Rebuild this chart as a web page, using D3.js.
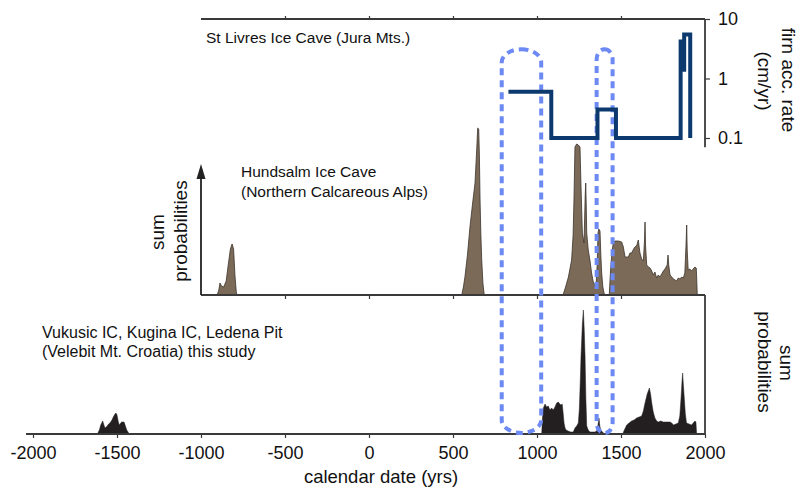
<!DOCTYPE html>
<html>
<head>
<meta charset="utf-8">
<script src="https://cdn.jsdelivr.net/npm/d3@7"></script>
<style>
  body { margin: 0; background: #fff; }
  svg { display: block; font-family: "Liberation Sans", Arial, sans-serif; }
  .axis line, .axis path { stroke: #3a3a3a; }
</style>
</head>
<body>
<div id="chart"></div>
<script>
// ---- data ----
const xTicks = [-2000, -1500, -1000, -500, 0, 500, 1000, 1500, 2000];
const rateTicks = [0.1, 1, 10];

// St Livres firn accumulation rate, step changes [year, cm/yr]
const stLivresYears = [830, 1085, 1360, 1470, 1855, 1868, 1876, 1912];
const stLivresRates = [0.6, 0.1, 0.3, 0.1, 4.2, 1.4, 5.5, 0.1];

// Hundsalm Ice Cave summed probabilities (relative units)
const hundsalmYears = [
  -905, -895, -887, -878, -865, -850, -838, -825, -815, -806, -798, -790, -786,
  552, 562, 571, 586, 601, 617, 631, 641, 647, 653, 657, 661, 666, 671, 678, 686,
  1155, 1170, 1187, 1206, 1215, 1220, 1226, 1236, 1246, 1256, 1262, 1270, 1280, 1287, 1290, 1293, 1296,
  1305, 1315, 1325, 1335, 1351, 1358, 1363, 1368, 1375, 1380, 1385, 1392, 1399, 1405,
  1430, 1438, 1446, 1454, 1464, 1484, 1504, 1514, 1524, 1544, 1553, 1563, 1575, 1583, 1595, 1603,
  1608, 1613, 1623, 1633, 1640, 1643, 1646, 1653, 1663, 1673, 1683, 1692, 1702, 1712, 1722, 1732,
  1742, 1752, 1762, 1775, 1780, 1784, 1792, 1802, 1812, 1822, 1831, 1841, 1851, 1861, 1871, 1880,
  1887, 1891, 1894, 1900, 1910, 1920, 1930, 1940, 1948, 1952, 1954
];
const hundsalmProb = [
  0, 4, 12, 9, 8, 14, 30, 46, 51, 46, 20, 3, 0,
  0, 8, 18, 40, 68, 92, 112, 145, 167, 166, 140, 95, 60, 35, 12, 0,
  0, 8, 18, 35, 60, 95, 148, 151, 150, 148, 108, 62, 52, 100, 112, 90, 62,
  45, 35, 22, 13, 8, 30, 62, 66, 64, 40, 22, 8, 2, 0,
  0, 25, 43, 52, 54, 54, 53, 48, 38, 38, 42, 42, 46, 48, 50, 55,
  48, 42, 36, 34, 55, 73, 50, 30, 28, 27, 24, 20, 23, 17, 20, 18,
  21, 24, 26, 30, 40, 30, 20, 18, 16, 15, 14, 17, 16, 18, 17, 22,
  50, 70, 45, 25, 26, 24, 26, 28, 27, 10, 0
];

// Vukusic IC, Kugina IC, Ledena Pit summed probabilities (relative units)
const velebitYears = [
  -1617, -1605, -1597, -1585, -1578, -1571, -1558, -1550, -1542, -1530, -1522, -1512, -1506,
  -1500, -1492, -1486, -1478, -1472, -1458, -1450, -1442, -1427,
  1028, 1032, 1038, 1048, 1057, 1067, 1077, 1087, 1097, 1107, 1117, 1127, 1135, 1143, 1150, 1155,
  1161, 1167, 1173, 1185, 1200, 1216, 1226, 1236, 1246, 1252, 1258, 1262, 1270, 1276, 1281, 1286,
  1291, 1296, 1305, 1315, 1345, 1355, 1362, 1369, 1374, 1379, 1395, 1405,
  1510, 1520, 1534, 1548, 1563, 1578, 1593, 1608, 1623, 1633, 1643, 1656, 1669, 1676, 1683, 1692,
  1702, 1712, 1722, 1737, 1752, 1772, 1792, 1802, 1812, 1827, 1841, 1850, 1857, 1863, 1867, 1871,
  1877, 1883, 1890, 1905, 1920, 1930, 1940, 1946, 1950
];
const velebitProb = [
  0, 4, 9, 13, 9, 6, 8, 10, 11, 14, 17, 20, 21,
  19, 12, 9, 11, 12, 12, 8, 4, 0,
  0, 15, 26, 30, 27, 28, 24, 26, 24, 27, 31, 32, 30, 29, 30, 22,
  11, 6, 4, 3, 2, 2, 6, 8, 11, 25, 55, 78, 110, 124, 105, 78,
  35, 8, 4, 2, 2, 3, 8, 16, 8, 4, 1, 0,
  0, 4, 9, 11, 13, 14, 16, 17, 18, 23, 31, 40, 46, 40, 31, 22,
  16, 13, 12, 13, 12, 12, 12, 11, 9, 10, 11, 18, 35, 52, 61, 50,
  35, 20, 11, 10, 9, 11, 13, 12, 0
];

// highlighted intervals (years)
const highlightStart = [790, 1355];
const highlightEnd = [1025, 1450];

// ---- layout ----
const W = 799, H = 491;
const svg = d3.select('#chart').append('svg')
  .attr('width', W).attr('height', H);

const x = d3.scaleLinear().domain([-2000, 2000]).range([33, 705]);
const yRate = d3.scaleLog().domain([0.1, 10]).range([138, 19]);
const yMid = d3.scaleLinear().domain([0, 170]).range([295, 125]);
const yBot = d3.scaleLinear().domain([0, 140]).range([434, 294]);

const axisColor = '#3a3a3a';

// ---- probability fills ----
function zipped(years, vals) {
  return years.map((yr, i) => ({ yr: yr, v: vals[i] }));
}

const midArea = d3.area()
  .x(d => x(d.yr)).y0(yMid(0)).y1(d => yMid(d.v));
const botArea = d3.area()
  .x(d => x(d.yr)).y0(yBot(0)).y1(d => yBot(d.v));

svg.append('path')
  .datum(zipped(hundsalmYears, hundsalmProb))
  .attr('d', midArea)
  .attr('fill', '#7b6a57')
  .attr('stroke', '#3b342c')
  .attr('stroke-width', 0.8);

svg.append('path')
  .datum(zipped(velebitYears, velebitProb))
  .attr('d', botArea)
  .attr('fill', '#231f20')
  .attr('stroke', '#231f20')
  .attr('stroke-width', 0.5);

// ---- axes ----
// bottom axis (full range)
const bottomAxis = svg.append('g')
  .attr('class', 'axis')
  .attr('transform', `translate(0, ${yBot(0)})`)
  .call(d3.axisBottom(x).tickValues(xTicks).tickSize(4).tickSizeOuter(0).tickPadding(8)
    .tickFormat(d3.format('d')));
bottomAxis.select('.domain').attr('d', `M26,0H${x(2000)}`).attr('stroke-width', 1.8);
bottomAxis.selectAll('line').attr('stroke-width', 1.2);
bottomAxis.selectAll('text')
  .attr('fill', '#111')
  .style('font-size', '18px')
  .text(d => d < 0 ? '-' + Math.abs(d) : d);

// middle axis (Hundsalm baseline)
const midAxis = svg.append('g')
  .attr('class', 'axis')
  .attr('transform', `translate(0, ${yMid(0)})`)
  .call(d3.axisBottom(x).tickValues(xTicks.filter(d => d > -1000 && d < 2000))
    .tickSize(4).tickSizeOuter(0).tickFormat(''));
midAxis.select('.domain').attr('d', `M${x(-1000)},0H${x(2000)}`).attr('stroke-width', 1.8);
midAxis.selectAll('line').attr('stroke-width', 1.2);

// frame of bottom panel (right side)
svg.append('line')
  .attr('x1', x(2000)).attr('x2', x(2000))
  .attr('y1', yMid(0)).attr('y2', yBot(0))
  .attr('stroke', axisColor).attr('stroke-width', 1.8);

// arrow on sum probabilities
svg.append('line')
  .attr('x1', x(-1000)).attr('x2', x(-1000))
  .attr('y1', yMid(0)).attr('y2', yMid(0) - 118)
  .attr('stroke', '#222').attr('stroke-width', 1.8);
svg.append('path')
  .attr('d', `M${x(-1000)},${yMid(0) - 131}l-4.5,15h9z`)
  .attr('fill', '#222');

// top axis for St Livres
const topAxis = svg.append('g')
  .attr('class', 'axis')
  .attr('transform', `translate(0, ${yRate(10)})`)
  .call(d3.axisTop(x).tickValues(xTicks.filter(d => d > -1000 && d < 2000))
    .tickSize(3).tickSizeOuter(0).tickFormat(''));
topAxis.select('.domain').attr('d', `M${x(-1000)},0H${x(2000)}`).attr('stroke-width', 1.8);
topAxis.selectAll('line').attr('stroke-width', 1.2);

const rateAxis = svg.append('g')
  .attr('class', 'axis')
  .attr('transform', `translate(${x(2000)}, 0)`)
  .call(d3.axisRight(yRate).tickValues(rateTicks).tickSize(5).tickSizeOuter(0).tickPadding(8)
    .tickFormat(d => d < 1 ? '0.1' : d3.format('d')(d)));
rateAxis.select('.domain').attr('d', `M0,${yRate(10)}V${yRate(0.07)}`).attr('stroke-width', 1.8);
rateAxis.selectAll('line').attr('stroke-width', 1.2);
rateAxis.selectAll('text').attr('fill', '#111').style('font-size', '18px');

// ---- highlighted intervals ----
highlightStart.forEach((s, i) => {
  const x0 = x(s), x1 = x(highlightEnd[i]);
  const top = yRate(3.1), bottom = yBot(0) - 1;
  svg.append('rect')
    .attr('x', x0).attr('y', top)
    .attr('width', x1 - x0).attr('height', bottom - top)
    .attr('rx', (x1 - x0) / 2).attr('ry', i === 0 ? 13 : 10)
    .attr('fill', 'none')
    .attr('stroke', '#6c89f4')
    .attr('stroke-width', 4)
    .attr('stroke-dasharray', '7,5');
});

// ---- St Livres accumulation line ----
const rateLine = d3.line()
  .x(d => x(d.yr)).y(d => yRate(d.v))
  .curve(d3.curveStepAfter);
svg.append('path')
  .datum(zipped(stLivresYears, stLivresRates))
  .attr('d', rateLine)
  .attr('fill', 'none')
  .attr('stroke', '#0c3a6f')
  .attr('stroke-width', 4);

// ---- labels ----
function label(txt, px, py, size, anchor) {
  return svg.append('text')
    .attr('x', px).attr('y', py)
    .attr('text-anchor', anchor || 'start')
    .style('font-size', size + 'px')
    .attr('fill', '#111')
    .text(txt);
}

label('St Livres Ice Cave (Jura Mts.)', 206, 43, 15.5);
label('Hundsalm Ice Cave', 241, 177, 15.5);
label('(Northern Calcareous Alps)', 241, 197, 15.5);
label('Vukusic IC, Kugina IC, Ledena Pit', 42, 338, 16);
label('(Velebit Mt. Croatia) this study', 42, 357, 16);
label('calendar date (yrs)', 381, 483, 18.5, 'middle');

function vlabel(txt, cx, cy, angle) {
  svg.append('text')
    .attr('transform', `translate(${cx},${cy}) rotate(${angle})`)
    .attr('text-anchor', 'middle')
    .attr('dy', '0.35em')
    .style('font-size', '19px')
    .attr('fill', '#111')
    .text(txt);
}

vlabel('sum', 157, 232, -90);
vlabel('probabilities', 180, 231, -90);
vlabel('sum', 787, 363, 90);
vlabel('probabilities', 765, 362, 90);
vlabel('firn acc. rate', 789, 80, 90);
vlabel('(cm/yr)', 765, 81, 90);
</script>
</body>
</html>
